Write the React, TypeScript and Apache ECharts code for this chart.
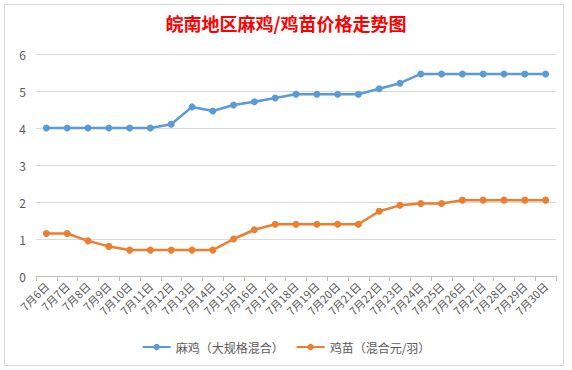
import React, { useEffect, useRef } from "react";
import * as echarts from "echarts";

const categories = [
  "7月6日", "7月7日", "7月8日", "7月9日", "7月10日", "7月11日", "7月12日", "7月13日",
  "7月14日", "7月15日", "7月16日", "7月17日", "7月18日", "7月19日", "7月20日", "7月21日",
  "7月22日", "7月23日", "7月24日", "7月25日", "7月26日", "7月27日", "7月28日", "7月29日", "7月30日",
];
const maji = [
  4.0, 4.0, 4.0, 4.0, 4.0, 4.0, 4.1, 4.57, 4.46, 4.62, 4.71, 4.81, 4.91,
  4.91, 4.91, 4.91, 5.06, 5.21, 5.46, 5.46, 5.46, 5.46, 5.46, 5.46, 5.46,
];
const jimiao = [
  1.15, 1.15, 0.95, 0.8, 0.7, 0.7, 0.7, 0.7, 0.7, 1.0, 1.25, 1.4, 1.4,
  1.4, 1.4, 1.4, 1.75, 1.91, 1.96, 1.96, 2.05, 2.05, 2.05, 2.05, 2.05,
];
const seriesNames = ["麻鸡（大规格混合）", "鸡苗（混合元/羽）"];
const title = "皖南地区麻鸡/鸡苗价格走势图";

export default function App() {
  const ref = useRef<HTMLDivElement>(null);
  useEffect(() => {
    if (!ref.current) return;
    const chart = echarts.init(ref.current, null, { renderer: "svg" });
    const font = "'Noto Sans CJK SC', 'Noto Sans', sans-serif";
    chart.setOption({
      animation: false,
      backgroundColor: "#ffffff",
      textStyle: { fontFamily: font },
      title: {
        text: title,
        left: "center",
        top: 9,
        textStyle: { color: "#ff0000", fontSize: 18, fontWeight: "bold", fontFamily: font },
      },
      graphic: [
        {
          type: "rect",
          shape: { x: 4.5, y: 4.5, width: 559, height: 361 },
          style: { fill: "none", stroke: "#d9d9d9", lineWidth: 1 },
          silent: true,
        },
      ],
      legend: {
        bottom: 12,
        left: "center",
        itemGap: 12,
        itemWidth: 28,
        itemHeight: 8,
        textStyle: { color: "#595959", fontSize: 12, fontFamily: font },
        data: seriesNames,
      },
      grid: { left: 36, right: 16, top: 54, bottom: 94, containLabel: false },
      xAxis: {
        type: "category",
        data: categories,
        boundaryGap: true,
        axisLine: { lineStyle: { color: "#bfbfbf" } },
        axisTick: { show: true, lineStyle: { color: "#bfbfbf" }, length: 5 },
        axisLabel: { rotate: 45, color: "#595959", fontSize: 11, interval: 0, margin: 8, fontFamily: font },
      },
      yAxis: {
        type: "value",
        min: 0,
        max: 6,
        interval: 1,
        axisLine: { show: false },
        axisTick: { show: false },
        splitLine: { lineStyle: { color: "#d9d9d9" } },
        axisLabel: { color: "#595959", fontSize: 12, margin: 10, fontFamily: font },
      },
      series: [
        {
          name: seriesNames[0],
          type: "line",
          data: maji,
          symbol: "circle",
          symbolSize: 7,
          lineStyle: { width: 2.5, color: "#5b9bd5" },
          itemStyle: { color: "#5b9bd5" },
        },
        {
          name: seriesNames[1],
          type: "line",
          data: jimiao,
          symbol: "circle",
          symbolSize: 7,
          lineStyle: { width: 2.5, color: "#ed7d31" },
          itemStyle: { color: "#ed7d31" },
        },
      ],
    });
    return () => chart.dispose();
  }, []);
  return (
    <div
      ref={ref}
      style={{ position: "absolute", left: 0, top: 0, width: 572, height: 370 }}
    />
  );
}
